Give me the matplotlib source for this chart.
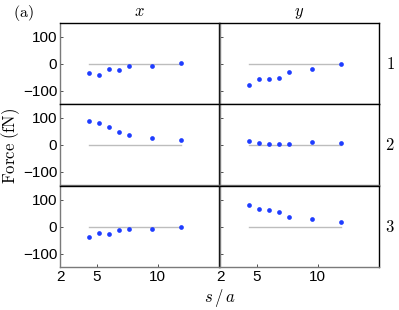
import matplotlib
matplotlib.use("Agg")
import matplotlib.pyplot as plt

# ------------------------------
# Data
# ------------------------------
s_over_a = [4.4, 5.2, 6.0, 6.8, 7.6, 9.5, 11.9]

force_x = {
    1: [-37, -43, -19, -23, -9, -11, 2],
    2: [87, 78, 63, 46, 36, 23, 15],
    3: [-38, -23, -28, -14, -10, -9, -1],
}
force_y = {
    1: [-81, -57, -57, -53, -30, -21, -3],
    2: [12, 4, 3, 3, 2, 11, 6],
    3: [79, 64, 60, 52, 36, 28, 15],
}

rows = [1, 2, 3]
x_ticks = [2, 5, 10]
y_ticks = [-100, 0, 100]

plt.rcParams["mathtext.fontset"] = "cm"
plt.rcParams["font.family"] = "Liberation Sans"

DOT = "#1f3dff"
ZERO = "#bdbdbd"
SPINE_GRAY = "#7a7a7a"


def main():
    fig = plt.figure(figsize=(3.99, 3.10), dpi=100)

    lefts = [0.1504, 0.5514]
    bottoms = [0.6645, 0.4032, 0.1387]
    w, h = 0.3985, 0.2613

    for r, row in enumerate(rows):
        for c, data in enumerate([force_x, force_y]):
            ax = fig.add_axes([lefts[c], bottoms[r], w, h])
            ax.plot([s_over_a[0], s_over_a[-1]], [0, 0], color=ZERO, lw=1.0, zorder=1)
            ax.plot(s_over_a, data[row], "o", color=DOT, ms=3.4, mec="none", zorder=2)

            ax.set_xlim(2, 15)
            ax.set_ylim(-150, 150)
            ax.set_xticks(x_ticks)
            ax.set_yticks(y_ticks)
            ax.tick_params(direction="in", length=2, width=0.6, labelsize=11,
                           colors="#333333", labelcolor="black", pad=2)

            for side in ["left", "bottom"]:
                ax.spines[side].set_color(SPINE_GRAY)
                ax.spines[side].set_linewidth(1.0)
            for side in ["top", "right"]:
                ax.spines[side].set_color("black")
                ax.spines[side].set_linewidth(1.0)

            if c == 1:
                ax.set_yticklabels([])
            if r < 2:
                ax.set_xticklabels([])
                ax.tick_params(axis="x", length=0)

            if r == 0:
                ax.set_title(["$x$", "$y$"][c], fontsize=12, pad=5)
            if c == 1:
                ax.text(1.07, 0.5, rf"$\mathrm{{{row}}}$", transform=ax.transAxes,
                        fontsize=12, ha="center", va="center")

    fig.text(0.033, 0.957, r"$\mathrm{(a)}$", fontsize=11.5, ha="left", va="center")
    fig.text(0.027, 0.53, r"$\mathrm{Force\ (fN)}$", fontsize=12, rotation=90,
             ha="center", va="center")
    fig.text(0.55, 0.038, "$s\\,/\\,a$", fontsize=12, ha="center", va="center")

    fig.savefig("out.png", dpi=100)
    plt.close(fig)


if __name__ == "__main__":
    main()
